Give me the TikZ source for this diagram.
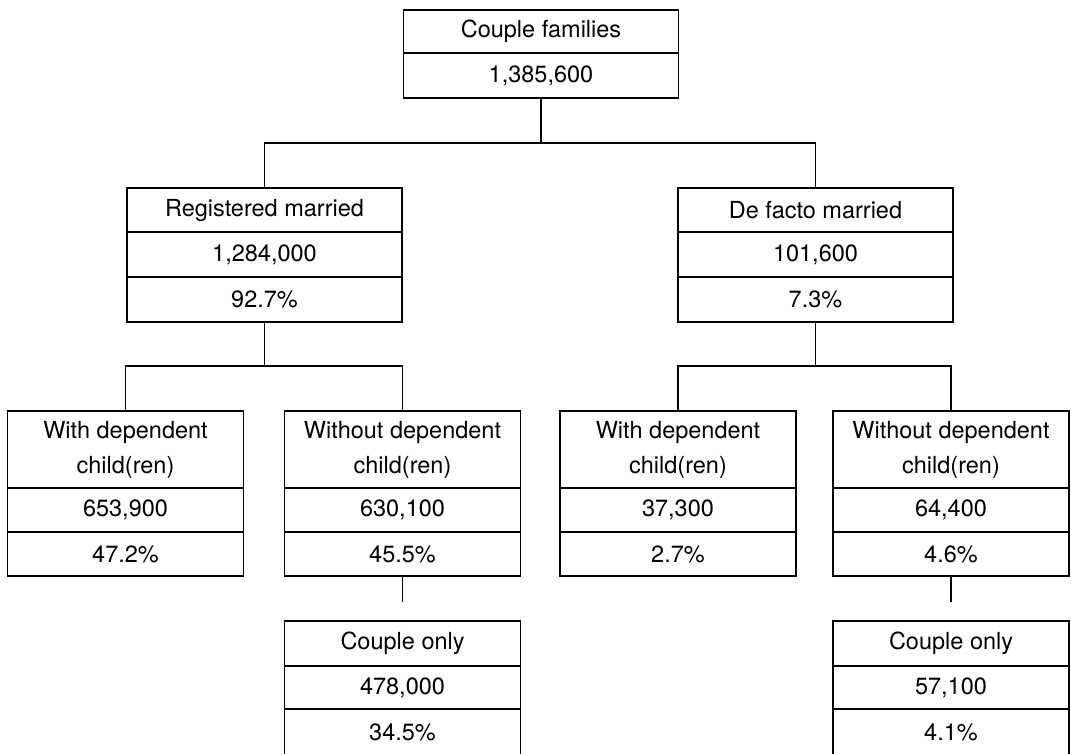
\documentclass[tikz,border=0pt]{standalone}
\usepackage{fontspec}
\setmainfont{TeX Gyre Heros}
\begin{document}
\begin{tikzpicture}[x=1pt,y=-1pt,line width=1.1pt,
  cell/.style={draw=black, rectangle, inner sep=0pt, align=center,
    font=\fontsize{23.5}{35}\selectfont},
  wide/.style={cell, minimum width=275pt},
  narrow/.style={cell, minimum width=236pt},
  conn/.style={draw=black, line width=1.1pt}]
\useasboundingbox (0,0) rectangle (1071,753);
\fill[white] (0,0) rectangle (1071,753);

% Level 1
\node[wide, minimum height=43pt] (cf)  at (541,31.5) {Couple families};
\node[wide, minimum height=45pt] (cfn) at (541,75.5) {1,385,600};

% Level 2 left
\node[wide, minimum height=44pt] (rm)  at (264.5,210)   {Registered married};
\node[wide, minimum height=45pt] (rmn) at (264.5,254.5) {1,284,000};
\node[wide, minimum height=45pt] (rmp) at (264.5,299.5) {92.7\%};

% Level 2 right
\node[wide, minimum height=44pt] (df)  at (815.5,210)   {De facto married};
\node[wide, minimum height=45pt] (dfn) at (815.5,254.5) {101,600};
\node[wide, minimum height=45pt] (dfp) at (815.5,299.5) {7.3\%};

% Level 3
\node[narrow, minimum height=77pt] (wa)  at (125.5,449.5) {With dependent\\child(ren)};
\node[narrow, minimum height=44pt] (wan) at (125.5,510)   {653,900};
\node[narrow, minimum height=44pt] (wap) at (125.5,554)   {47.2\%};

\node[narrow, minimum height=77pt] (oa)  at (402.5,449.5) {Without dependent\\child(ren)};
\node[narrow, minimum height=44pt] (oan) at (402.5,510)   {630,100};
\node[narrow, minimum height=44pt] (oap) at (402.5,554)   {45.5\%};

\node[narrow, minimum height=77pt] (wb)  at (678,449.5) {With dependent\\child(ren)};
\node[narrow, minimum height=44pt] (wbn) at (678,510)   {37,300};
\node[narrow, minimum height=44pt] (wbp) at (678,554)   {2.7\%};

\node[narrow, minimum height=77pt] (ob)  at (951,449.5) {Without dependent\\child(ren)};
\node[narrow, minimum height=44pt] (obn) at (951,510)   {64,400};
\node[narrow, minimum height=44pt] (obp) at (951,554)   {4.6\%};

% Level 4 (bottom edge runs off the page, as in the reference)
\node[narrow, minimum height=45pt] (ca)  at (402.5,643.5) {Couple only};
\node[narrow, minimum height=43pt] (can) at (402.5,687.5) {478,000};
\node[narrow, minimum height=47pt] (cap) at (402.5,732.5) {34.5\%};

\node[narrow, minimum height=45pt] (cb)  at (951,643.5) {Couple only};
\node[narrow, minimum height=43pt] (cbn) at (951,687.5) {57,100};
\node[narrow, minimum height=47pt] (cbp) at (951,732.5) {4.1\%};

% Connectors
\coordinate (j1) at (541,143);
\coordinate (j2) at (264.5,366);
\coordinate (j3) at (815.5,366);
\coordinate (e1) at (402.5,602);
\coordinate (e2) at (951,602);

\draw[conn] (cfn.south) -- (j1);
\draw[conn] (rm.north) |- (j1);
\draw[conn] (df.north) |- (j1);

\draw[conn] (rmp.south) -- (j2);
\draw[conn] (wa.north) |- (j2);
\draw[conn] (oa.north) |- (j2);

\draw[conn] (dfp.south) -- (j3);
\draw[conn] (wb.north) |- (j3);
\draw[conn] (ob.north) |- (j3);

\draw[conn] (oap.south) -- (e1);
\draw[conn] (obp.south) -- (e2);
\end{tikzpicture}
\end{document}
